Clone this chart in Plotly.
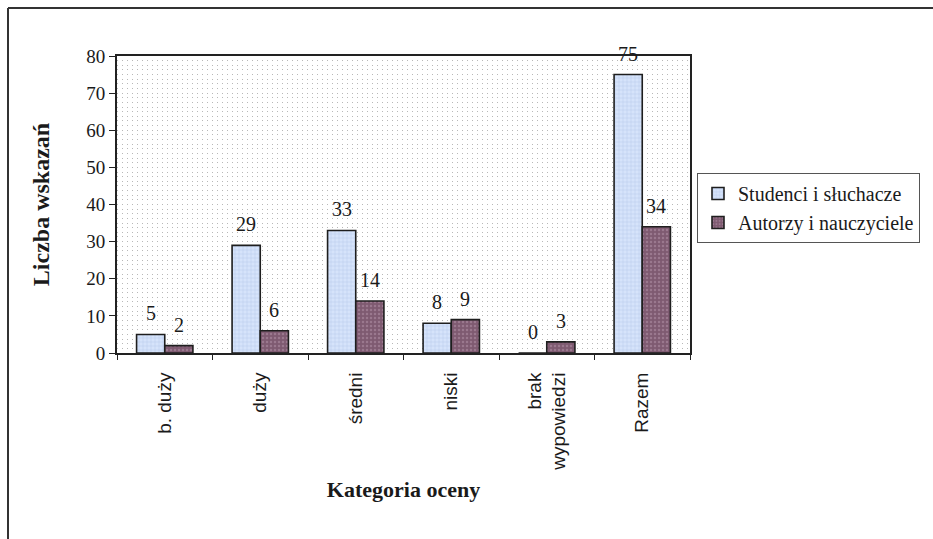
import plotly.graph_objects as go

# Ocena kategorii - liczba wskazań w dwóch grupach respondentów
categories = ["b. duży", "duży", "średni", "niski", "brak<br>wypowiedzi", "Razem"]
studenci = [5, 29, 33, 8, 0, 75]
autorzy = [2, 6, 14, 9, 3, 34]
series_names = ["Studenci i słuchacze", "Autorzy i nauczyciele"]

y_ticks = [0, 10, 20, 30, 40, 50, 60, 70, 80]

SERIF = "Liberation Serif, Times New Roman, serif"
SANS = "Liberation Sans, Arial, sans-serif"
INK = "#1a1a1a"
BARGAP = 0.41

fig = go.Figure()
fig.add_trace(go.Bar(
    x=categories, y=studenci, name=series_names[0],
    marker=dict(color="#d2e0f8", line=dict(color="#1e1e1e", width=1.6),
                pattern=dict(shape="+", fgcolor="#9db4de", bgcolor="#d6e3fa",
                             size=4, solidity=0.25)),
))
fig.add_trace(go.Bar(
    x=categories, y=autorzy, name=series_names[1],
    marker=dict(color="#86647a", line=dict(color="#1e1e1e", width=1.6),
                pattern=dict(shape=".", fgcolor="#b596aa", bgcolor="#7e5a71",
                             size=4, solidity=0.3)),
))

# value labels above each bar, offset to the bar centre within its group
bar_w = (1 - BARGAP) / 2
annotations = []
for i, (a, b) in enumerate(zip(studenci, autorzy)):
    for off, v in ((-bar_w / 2, a), (bar_w / 2, b)):
        annotations.append(dict(
            x=i + off, y=v, xref="x", yref="y", text=str(v), showarrow=False,
            yanchor="middle", yshift=21, font=dict(family=SERIF, size=20, color=INK),
        ))

# outer frame of the chart
frame = [
    dict(type="line", xref="paper", yref="paper", x0=(8 - 117) / 573, x1=(940 - 117) / 573,
         y0=1 + (56 - 8) / 297, y1=1 + (56 - 8) / 297, line=dict(color="#333", width=2)),
    dict(type="line", xref="paper", yref="paper", x0=(8 - 117) / 573, x1=(8 - 117) / 573,
         y0=1 + (56 - 8) / 297, y1=-(545 - 353) / 297, line=dict(color="#333", width=2)),
]

fig.update_layout(
    width=933, height=539,
    margin=dict(l=117, r=243, t=56, b=186),
    paper_bgcolor="#ffffff", plot_bgcolor="#ffffff",
    barmode="group", bargap=BARGAP, bargroupgap=0,
    font=dict(family=SERIF, size=19, color=INK),
    annotations=annotations,
    shapes=frame,
    legend=dict(
        x=(697 - 117) / 573, y=1 - (173 - 56) / 297, xanchor="left", yanchor="top",
        bordercolor="#555", borderwidth=1, bgcolor="#ffffff",
        font=dict(family=SERIF, size=20, color=INK),
    ),
    showlegend=True,
)

fig.update_xaxes(
    type="category", tickangle=-90, tickfont=dict(family=SANS, size=19, color=INK),
    ticks="outside", ticklen=5, tickcolor="#222", tickson="boundaries",
    ticklabelstandoff=10,
    showline=True, linecolor="#222", linewidth=2, mirror=True, showgrid=False,
    title=dict(text="<b>Kategoria oceny</b>", font=dict(family=SERIF, size=22, color=INK),
               standoff=12),
)
fig.update_yaxes(
    range=[0, 80], tickvals=y_ticks, tickfont=dict(family=SERIF, size=19, color=INK),
    ticks="outside", ticklen=6, tickcolor="#222",
    showline=True, linecolor="#222", linewidth=2, mirror=True, zeroline=False,
    showgrid=True, gridcolor="#b8b8b8", gridwidth=1, griddash="1px,4px",
    minor=dict(dtick=1.25, showgrid=True, gridcolor="#b8b8b8", gridwidth=1,
               griddash="1px,4px", ticks=""),
    title=dict(text="<b>Liczba wskazań</b>", font=dict(family=SERIF, size=24, color=INK),
               standoff=30),
)

fig.write_html("out.html")
